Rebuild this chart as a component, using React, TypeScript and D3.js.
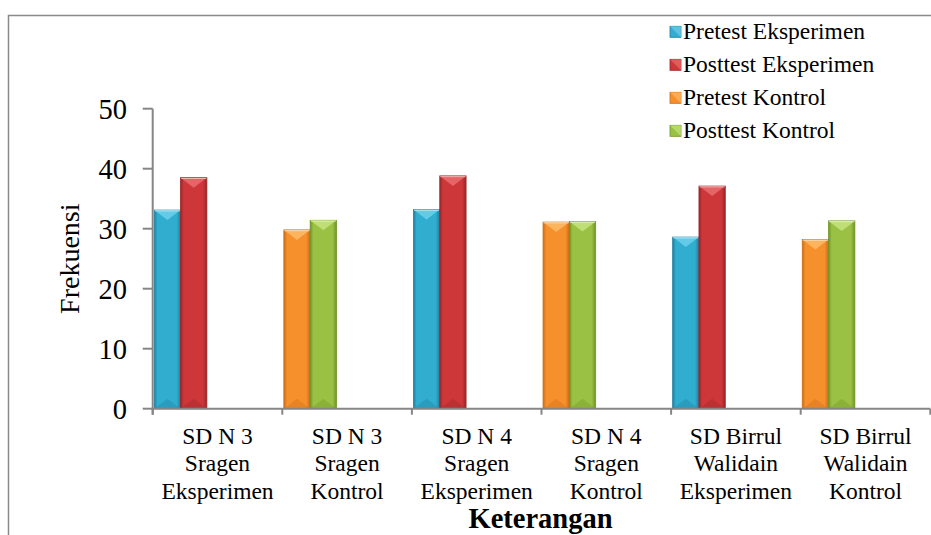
import React from "react";
import * as d3 from "d3";

const categories = [
  ["SD N 3", "Sragen", "Eksperimen"],
  ["SD N 3", "Sragen", "Kontrol"],
  ["SD N 4", "Sragen", "Eksperimen"],
  ["SD N 4", "Sragen", "Kontrol"],
  ["SD Birrul", "Walidain", "Eksperimen"],
  ["SD Birrul", "Walidain", "Kontrol"],
];
const seriesNames = ["Pretest Eksperimen", "Posttest Eksperimen", "Pretest Kontrol", "Posttest Kontrol"];
const pretestEksperimen = [33.1, null, 33.2, null, 28.6, null];
const posttestEksperimen = [38.5, null, 38.8, null, 37.1, null];
const pretestKontrol = [null, 29.8, null, 31.1, null, 28.2];
const posttestKontrol = [null, 31.4, null, 31.2, null, 31.3];
const yTicks = [0, 10, 20, 30, 40, 50];
const yTitle = "Frekuensi";
const xTitle = "Keterangan";

const seriesValues = [pretestEksperimen, posttestEksperimen, pretestKontrol, posttestKontrol];
const seriesSlot = [0, 1, 0, 1];
const palette = [
  { main: "#31ADD0", dark: "#1F7F9E", light: "#74D6F0" },
  { main: "#CD3739", dark: "#9A2628", light: "#EC7475" },
  { main: "#F6902D", dark: "#CC6C14", light: "#FEC070" },
  { main: "#9AC143", dark: "#6F9427", light: "#CBE786" },
];

const FONT = "Liberation Serif";
const ts = { fontFamily: FONT } as React.CSSProperties;

function Bar({ x, y, w, h, idx }: { x: number; y: number; w: number; h: number; idx: number }) {
  const bev = Math.min(w * 0.38, h / 2);
  const c = palette[idx];
  return (
    <g>
      <rect x={x} y={y} width={w} height={h} fill={`url(#grad${idx})`} stroke={c.dark} strokeWidth={0.8} />
      <polygon points={`${x},${y} ${x + w},${y} ${x + w / 2},${y + bev}`} fill={c.light} opacity={0.75} />
      <polygon points={`${x},${y + h} ${x + w},${y + h} ${x + w / 2},${y + h - bev}`} fill={c.dark} opacity={0.35} />
      <line x1={x + 0.5} x2={x + w - 0.5} y1={y + 0.8} y2={y + 0.8} stroke="#ffffff" strokeOpacity={0.5} strokeWidth={1} />
    </g>
  );
}

export default function App() {
  const width = 931;
  const height = 535;
  const x0 = 152.7;
  const x1 = 930.3;
  const yScale = d3.scaleLinear().domain([0, 50]).range([408.7, 108.7]);
  const xScale = d3
    .scaleBand<number>()
    .domain(categories.map((_, i) => i))
    .range([x0, x1])
    .paddingInner(0)
    .paddingOuter(0);
  const bw = xScale.bandwidth();
  const barW = bw * 0.203;
  const barOff = bw * 0.012;
  const axisColor = "#868686";
  const y0 = yScale(0);

  return (
    <svg
      width={width}
      height={height}
      style={{ position: "absolute", left: 0, top: 0, background: "#fff", fontFamily: FONT }}
    >
      <defs>
        {palette.map((c, i) => (
          <linearGradient key={i} id={`grad${i}`} x1="0" x2="1" y1="0" y2="0">
            <stop offset="0" stopColor={c.dark} />
            <stop offset="0.12" stopColor={c.main} />
            <stop offset="0.85" stopColor={c.main} />
            <stop offset="1" stopColor={c.dark} />
          </linearGradient>
        ))}
      </defs>
      <rect x={8.5} y={15.5} width={1000} height={600} fill="#fff" stroke="#8a8a8a" strokeWidth={1.5} />

      {seriesValues.map((vals, si) =>
        vals.map((v, ci) => {
          if (v == null) return null;
          const bx = (xScale(ci) as number) + barOff + seriesSlot[si] * barW;
          const by = yScale(v);
          return <Bar key={`${si}-${ci}`} x={bx} y={by} w={barW} h={y0 - by} idx={si} />;
        })
      )}

      <line x1={x0} x2={x0} y1={yScale(50)} y2={y0 + 6} stroke={axisColor} strokeWidth={2} />
      {yTicks.map((t) => (
        <g key={t}>
          <line x1={x0 - 10} x2={x0} y1={yScale(t)} y2={yScale(t)} stroke={axisColor} strokeWidth={2} />
          <text x={127} y={yScale(t) + 10} textAnchor="end" fontSize={28.5} fill="#000" style={ts}>
            {t}
          </text>
        </g>
      ))}
      <text
        transform={`translate(79, ${(yScale(0) + yScale(50)) / 2}) rotate(-90)`}
        textAnchor="middle"
        fontSize={28}
        fill="#000"
        style={ts}
      >
        {yTitle}
      </text>

      <line x1={x0} x2={x1} y1={y0} y2={y0} stroke={axisColor} strokeWidth={2} />
      {categories.map((_, i) => (
        <line
          key={i}
          x1={xScale(i) as number}
          x2={xScale(i) as number}
          y1={y0}
          y2={y0 + 6}
          stroke={axisColor}
          strokeWidth={2}
        />
      ))}
      <line x1={x1} x2={x1} y1={y0} y2={y0 + 6} stroke={axisColor} strokeWidth={2} />
      {categories.map((lines, i) => (
        <text key={i} textAnchor="middle" fontSize={23.5} fill="#000" style={ts}>
          {lines.map((l, li) => (
            <tspan key={li} x={(xScale(i) as number) + bw / 2} y={444 + li * 27.3}>
              {l}
            </tspan>
          ))}
        </text>
      ))}
      <text x={(x0 + x1) / 2 - 1} y={528} textAnchor="middle" fontSize={28.5} fontWeight="bold" fill="#000" style={ts}>
        {xTitle}
      </text>

      {seriesNames.map((n, i) => {
        const by = 39.3 + i * 33;
        const c = palette[i];
        return (
          <g key={n}>
            <rect x={670} y={by - 13} width={11} height={11} fill={c.main} stroke={c.dark} strokeWidth={0.8} />
            <polygon points={`${670},${by - 13} ${681},${by - 13} ${681},${by - 2}`} fill={c.light} opacity={0.6} />
            <text x={683} y={by} fontSize={23.5} fill="#000" style={ts}>
              {n}
            </text>
          </g>
        );
      })}
    </svg>
  );
}
